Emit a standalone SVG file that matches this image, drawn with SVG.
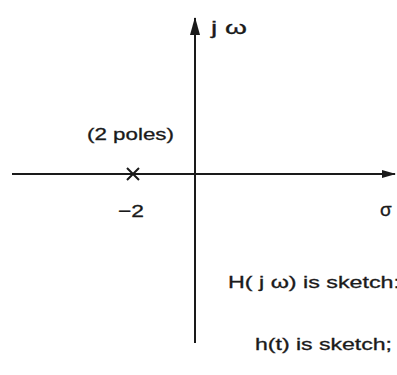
<svg xmlns="http://www.w3.org/2000/svg" width="397" height="375" viewBox="0 0 397 375">
<style>
.ax{stroke:#1a1a1a;stroke-width:2;fill:none}
.t{font-family:"Liberation Sans",Arial,sans-serif;fill:#1a1a1a;stroke:#1a1a1a;stroke-width:0.3}
</style>
<defs>
<marker id="ah" viewBox="0 0 18 10" refX="17" refY="5" markerWidth="9" markerHeight="5" orient="auto" markerUnits="strokeWidth">
<path d="M0,0 L18,5 L0,10 z" fill="#1a1a1a"/>
</marker>
<marker id="ah2" viewBox="0 0 14 8" refX="13" refY="4" markerWidth="7" markerHeight="4" orient="auto" markerUnits="strokeWidth">
<path d="M0,0 L14,4 L0,8 z" fill="#1a1a1a"/>
</marker>
</defs>
<rect width="397" height="375" fill="#fff"/>
<g id="connectors">
<line class="ax" x1="195" y1="343" x2="195" y2="18" marker-end="url(#ah)"/>
<line class="ax" x1="12" y1="174" x2="395" y2="174" marker-end="url(#ah2)"/>
</g>
<g id="pole">
<path class="ax" d="M127,168 L139,180 M139,168 L127,180"/>
<text class="t" x="87" y="140" font-size="17" textLength="87" lengthAdjust="spacingAndGlyphs">(2 poles)</text>
<text class="t" x="118" y="217" font-size="17" textLength="26" lengthAdjust="spacingAndGlyphs">−2</text>
</g>
<g id="labels">
<text class="t" x="211" y="34" font-size="19" textLength="36" lengthAdjust="spacingAndGlyphs">j ω</text>
<text class="t" x="380" y="216" font-size="19">σ</text>
<text class="t" x="228" y="288" font-size="16" textLength="172" lengthAdjust="spacingAndGlyphs">H( j ω) is sketch:</text>
<text class="t" x="255" y="350" font-size="16" textLength="137" lengthAdjust="spacingAndGlyphs">h(t) is sketch;</text>
</g>
</svg>
